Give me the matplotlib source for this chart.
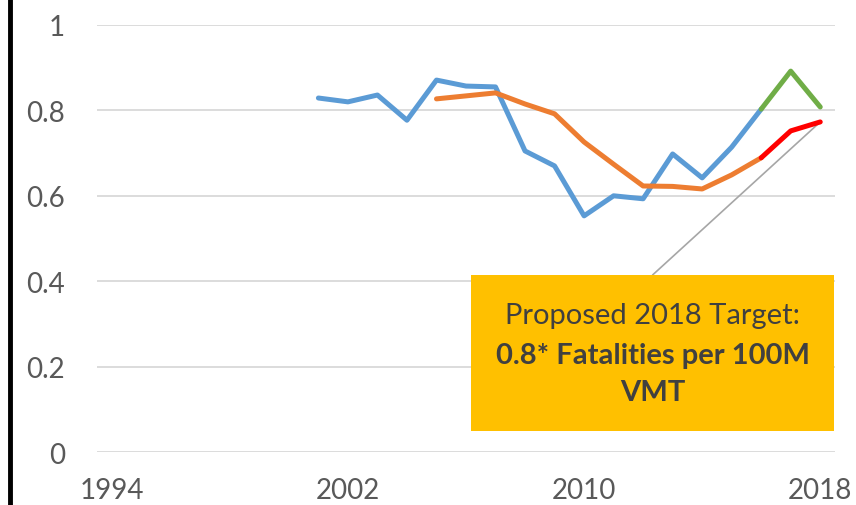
import matplotlib
matplotlib.use("Agg")
import matplotlib.pyplot as plt
from matplotlib.lines import Line2D
from matplotlib.patches import Rectangle

plt.rcParams['font.family'] = ['Lato', 'DejaVu Sans']

# fatality rate per 100M VMT
years_actual = [2001, 2002, 2003, 2004, 2005, 2006, 2007, 2008, 2009, 2010,
                2011, 2012, 2013, 2014, 2015, 2016]
rate_actual = [0.829, 0.820, 0.836, 0.777, 0.871, 0.857, 0.855, 0.705, 0.670, 0.553,
               0.600, 0.593, 0.698, 0.642, 0.714, 0.803]

years_proj = [2016, 2017, 2018]
rate_proj = [0.803, 0.892, 0.808]

# five year moving average
years_avg = [2005, 2006, 2007, 2008, 2009, 2010, 2011, 2012, 2013, 2014, 2015, 2016]
rate_avg = [0.827, 0.834, 0.841, 0.815, 0.792, 0.726, 0.674, 0.623, 0.622, 0.616, 0.649, 0.689]

years_avg_proj = [2016, 2017, 2018]
rate_avg_proj = [0.689, 0.752, 0.773]

xticks = [1994, 2002, 2010, 2018]
yticks = [0, 0.2, 0.4, 0.6, 0.8, 1]
ytick_labels = ['0', '0.2', '0.4', '0.6', '0.8', '1']

target_year = 2018
target_value = 0.773

grey = '#595959'

fig = plt.figure(figsize=(8.56, 5.06), dpi=100)
ax = fig.add_axes([97/856, 1 - 453/506, (835 - 97)/856, (453 - 26)/506])

lw = 3.6
ax.plot(years_actual, rate_actual, color='#5B9BD5', lw=lw, solid_capstyle='round', zorder=3)
ax.plot(years_proj, rate_proj, color='#70AD47', lw=lw, solid_capstyle='round', zorder=3)
ax.plot(years_avg, rate_avg, color='#ED7D31', lw=lw, solid_capstyle='round', zorder=4)
ax.plot(years_avg_proj, rate_avg_proj, color='#FF0000', lw=lw, solid_capstyle='round', zorder=4)

ax.set_xlim(1993.5, 2018.5)
ax.set_ylim(0, 1)
ax.set_xticks(xticks)
ax.set_yticks(yticks)
ax.set_yticklabels(ytick_labels)
ax.tick_params(axis='both', length=0, labelsize=20, colors=grey)
ax.tick_params(axis='y', pad=23)
ax.tick_params(axis='x', pad=18)
ax.grid(axis='y', color='#D9D9D9', lw=1.3)
ax.set_axisbelow(True)
for s in ax.spines.values():
    s.set_visible(False)

# target box
box_x0, box_x1 = 2006.17, 2018.47
box_y0, box_y1 = 0.049, 0.4145
ax.add_patch(Rectangle((box_x0, box_y0), box_x1 - box_x0, box_y1 - box_y0,
                       facecolor='#FFC000', edgecolor='none', zorder=5, clip_on=False))
cx = (box_x0 + box_x1) / 2
ax.annotate('', xy=(target_year, target_value), xytext=(cx, box_y1),
            arrowprops=dict(arrowstyle='-', color='#A6A6A6', lw=1.2, shrinkA=0, shrinkB=0),
            zorder=2)
ax.text(cx, 0.320, 'Proposed 2018 Target:', ha='center', va='center', fontsize=21,
        color='#404040', zorder=6)
ax.text(cx, 0.226, '0.8* Fatalities per 100M', ha='center', va='center', fontsize=21,
        fontweight='bold', color='#404040', zorder=6)
ax.text(cx, 0.141, 'VMT', ha='center', va='center', fontsize=21,
        fontweight='bold', color='#404040', zorder=6)

# black border line on the left
fig.add_artist(Line2D([10/856, 10/856], [0, 1], color='black', lw=3.5))

fig.savefig('out.png', dpi=100)
